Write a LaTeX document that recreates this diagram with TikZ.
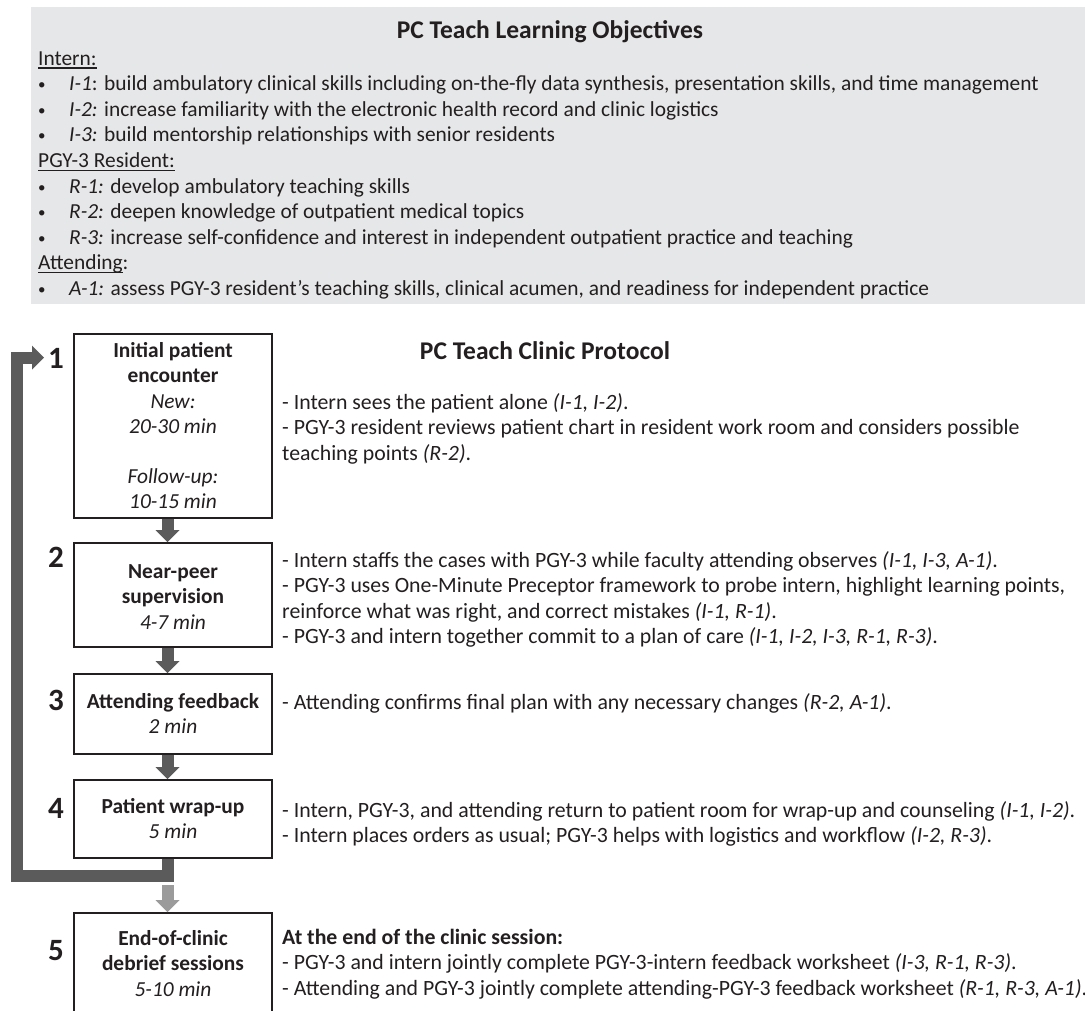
\documentclass[tikz,border=0pt]{standalone}
\usepackage{fontspec}
\setmainfont{Carlito}
\usetikzlibrary{arrows.meta}
\newcommand{\myul}[1]{\setbox0\hbox{#1}\rlap{\vrule height -2.2pt depth 3.6pt width \wd0}\box0}
\definecolor{ink}{HTML}{231F20}
\definecolor{panel}{HTML}{E6E7E8}
\definecolor{arrowdark}{HTML}{5B5B5B}
\definecolor{arrowlight}{HTML}{9B9B9B}
\tikzset{
  txt/.style={inner sep=0pt, anchor=base west, text=ink, font=\fontsize{21.4}{25}\selectfont},
  rtxt/.style={inner sep=0pt, anchor=base west, text=ink, font=\fontsize{21.8}{25}\selectfont},
  bul/.style={inner sep=0pt, anchor=base west, text=ink, font=\fontsize{15}{18}\selectfont},
  ctxt/.style={inner sep=0pt, anchor=base, text=ink, font=\fontsize{21.4}{25}\selectfont},
  cbtxt/.style={inner sep=0pt, anchor=base, text=ink, font=\fontsize{21.4}{25}\selectfont\bfseries},
  ttl/.style={inner sep=0pt, anchor=base, text=ink, font=\fontsize{25.5}{30}\selectfont\bfseries},
  numf/.style={inner sep=0pt, anchor=base, text=ink, font=\fontsize{31}{34}\selectfont\bfseries},
  stepbox/.style={draw=ink, line width=2pt, minimum width=198pt, inner sep=0pt},
  darr/.style={draw=arrowdark, line width=12pt, -{Triangle[width=24pt,length=12pt,line width=0pt]}},
  larr/.style={draw=arrowlight, line width=12pt, -{Triangle[width=24pt,length=12pt,line width=0pt]}}
}
\begin{document}
\begin{tikzpicture}[x=1pt,y=-1pt]
\clip (0,0) rectangle (1085,1010);
\fill[white] (0,0) rectangle (1085,1010);
% ---------- learning objectives panel ----------
\fill[panel] (31,7) rectangle (1085,304);
\node[ttl] (lotitle) at (550,38) {PC Teach Learning Objectives};
\node[txt] (hI) at (38,65) {\myul{Intern:}};
\node[bul] (bI1) at (38,89.6) {•};
\node[txt] (tI1) at (69,90.6) {\textit{I-1}: build ambulatory clinical skills including on-the-fly data synthesis, presentation skills, and time management};
\node[bul] (bI2) at (38,115.2) {•};
\node[txt] (tI2) at (69,116.2) {\textit{I-2:} increase familiarity with the electronic health record and clinic logistics};
\node[bul] (bI3) at (38,140.8) {•};
\node[txt] (tI3) at (69,141.8) {\textit{I-3:} build mentorship relationships with senior residents};
\node[txt] (hR) at (38,167.4) {\myul{PGY-3 Resident:}};
\node[bul] (bR1) at (38,192) {•};
\node[txt] (tR1) at (69,193) {\textit{R-1:} develop ambulatory teaching skills};
\node[bul] (bR2) at (38,217.6) {•};
\node[txt] (tR2) at (69,218.6) {\textit{R-2:} deepen knowledge of outpatient medical topics};
\node[bul] (bR3) at (38,243.2) {•};
\node[txt] (tR3) at (69,244.2) {\textit{R-3:} increase self-confidence and interest in independent outpatient practice and teaching};
\node[txt] (hA) at (38,269.8) {\myul{Attending}:};
\node[bul] (bA1) at (38,294.4) {•};
\node[txt] (tA1) at (69,295.4) {\textit{A-1:} assess PGY-3 resident’s teaching skills, clinical acumen, and readiness for independent practice};
% ---------- protocol ----------
\node[ttl] (ptitle) at (545,359) {PC Teach Clinic Protocol};
% boxes
\node[stepbox, minimum height=184pt] (b1) at (173,426) {};
\node[stepbox, minimum height=104pt] (b2) at (173,595) {};
\node[stepbox, minimum height=80pt] (b3) at (173,714) {};
\node[stepbox, minimum height=78pt] (b4) at (173,819) {};
\node[stepbox, minimum height=124pt] (b5) at (173,975) {};
% numbers
\node[numf] (n1) at (56,368) {1};
\node[numf] (n2) at (56,567) {2};
\node[numf] (n3) at (56,710) {3};
\node[numf] (n4) at (56,818) {4};
\node[numf] (n5) at (56,960) {5};
% box texts
\node[cbtxt] (b1a) at (173,357) {Initial patient};
\node[cbtxt] (b1b) at (173,382.6) {encounter};
\node[ctxt] (b1c) at (173,408) {\textit{New:}};
\node[ctxt] (b1d) at (173,433.5) {\textit{20-30 min}};
\node[ctxt] (b1e) at (173,483) {\textit{Follow-up:}};
\node[ctxt] (b1f) at (173,508.5) {\textit{10-15 min}};
\node[cbtxt] (b2a) at (173,578) {Near-peer};
\node[cbtxt] (b2b) at (173,603.6) {supervision};
\node[ctxt] (b2c) at (173,629) {\textit{4-7 min}};
\node[cbtxt] (b3a) at (173,708) {Attending feedback};
\node[ctxt] (b3b) at (173,733.5) {\textit{2 min}};
\node[cbtxt] (b4a) at (173,813) {Patient wrap-up};
\node[ctxt] (b4b) at (173,838.5) {\textit{5 min}};
\node[cbtxt] (b5a) at (173,945) {End-of-clinic};
\node[cbtxt] (b5b) at (173,970.6) {debrief sessions};
\node[ctxt] (b5c) at (173,996) {\textit{5-10 min}};
% right texts
\node[rtxt] (r1a) at (282,409) {- Intern sees the patient alone \textit{(I-1, I-2)}.};
\node[rtxt] (r1b) at (282,434.6) {- PGY-3 resident reviews patient chart in resident work room and considers possible};
\node[rtxt] (r1c) at (282,460.2) {teaching points \textit{(R-2)}.};
\node[rtxt] (r2a) at (282,567) {- Intern staffs the cases with PGY-3 while faculty attending observes \textit{(I-1, I-3, A-1)}.};
\node[rtxt] (r2b) at (282,592.6) {- PGY-3 uses One-Minute Preceptor framework to probe intern, highlight learning points,};
\node[rtxt] (r2c) at (282,618.2) {reinforce what was right, and correct mistakes \textit{(I-1, R-1)}.};
\node[rtxt] (r2d) at (282,643.8) {- PGY-3 and intern together commit to a plan of care \textit{(I-1, I-2, I-3, R-1, R-3)}.};
\node[rtxt] (r3a) at (282,709) {- Attending confirms final plan with any necessary changes \textit{(R-2, A-1)}.};
\node[rtxt] (r4a) at (282,817) {- Intern, PGY-3, and attending return to patient room for wrap-up and counseling \textit{(I-1, I-2)}.};
\node[rtxt] (r4b) at (282,842.6) {- Intern places orders as usual; PGY-3 helps with logistics and workflow \textit{(I-2, R-3)}.};
\node[rtxt, font=\fontsize{21.8}{25}\selectfont\bfseries] (r5a) at (282,944) {At the end of the clinic session:};
\node[rtxt] (r5b) at (282,969.6) {- PGY-3 and intern jointly complete PGY-3-intern feedback worksheet \textit{(I-3, R-1, R-3)}.};
\node[rtxt] (r5c) at (282,995.2) {- Attending and PGY-3 jointly complete attending-PGY-3 feedback worksheet \textit{(R-1, R-3, A-1)}.};
% arrows
\draw[darr] ([xshift=-5.5pt]b1.south) -- ([xshift=-5.5pt]b2.north);
\draw[darr] ([xshift=-5.5pt]b2.south) -- ([xshift=-5.5pt]b3.north);
\draw[darr] ([xshift=-5.5pt]b3.south) -- ([xshift=-5.5pt]b4.north);
\coordinate (loopL) at (16.5,876);
\coordinate (loopend) at (44,357.5);
\draw[darr, line join=miter] ([xshift=-5.5pt]b4.south) |- (loopL) |- (loopend);
\coordinate (lstart) at ([xshift=-5.5pt,yshift=27pt]b5.north);
\draw[larr] (lstart) -- ([xshift=-5.5pt]b5.north);
\end{tikzpicture}
\end{document}
